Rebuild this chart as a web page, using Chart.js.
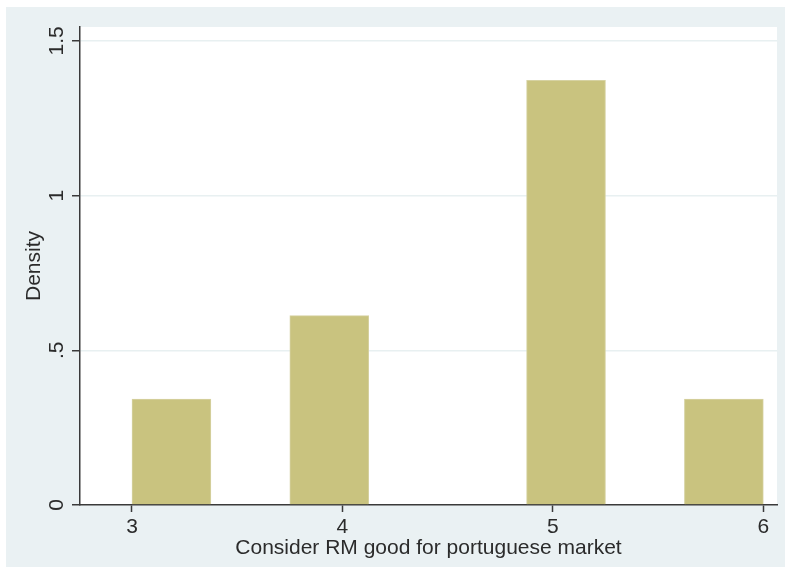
<!DOCTYPE html>
<html>
<head>
<meta charset="utf-8">
<script src="https://cdn.jsdelivr.net/npm/chart.js@4/dist/chart.umd.min.js"></script>
<style>
  html, body { margin: 0; padding: 0; background: #ffffff; }
  #wrap { width: 785px; height: 567px; }
</style>
</head>
<body>
<div id="wrap"><canvas id="c" width="785" height="567"></canvas></div>
<script>
// Histogram of responses: bin left edges, common bin width, density per bin
const binLeftEdges = [3, 3.375, 3.75, 4.125, 4.5, 4.875, 5.25, 5.625];
const binWidth = 0.375;
const densities = [0.342, 0, 0.612, 0, 0, 1.373, 0, 0.342];

const xTickValues = [3, 4, 5, 6];
const yTickValues = [0, 0.5, 1, 1.5];
const yTickLabels = ['0', '.5', '1', '1.5'];

const xTitle = 'Consider RM good for portuguese market';
const yTitle = 'Density';

const points = binLeftEdges.map((e, i) => ({ x: e + binWidth / 2, y: densities[i] }));

const FONT = "'Liberation Sans', Arial, sans-serif";
const FONT_SIZE = 21;
const INK = '#2b2b2b';
const AXIS = '#3a3a3a';

// Outer graph region and white plot region
const backgroundPlugin = {
  id: 'regions',
  beforeDraw(chart) {
    const { ctx, chartArea } = chart;
    ctx.save();
    ctx.fillStyle = '#eaf1f3';
    ctx.fillRect(6, 7, chart.width - 6, chart.height - 7);
    ctx.fillStyle = '#ffffff';
    ctx.fillRect(chartArea.left, chartArea.top, chartArea.right - chartArea.left, chartArea.bottom - chartArea.top);
    ctx.restore();
  }
};

// Vertical-axis tick labels, written upright along the axis and centred on each tick
const yLabelPlugin = {
  id: 'yLabels',
  afterDraw(chart) {
    const { ctx } = chart;
    const y = chart.scales.y;
    ctx.save();
    ctx.fillStyle = INK;
    ctx.font = `${FONT_SIZE}px ${FONT}`;
    ctx.textAlign = 'center';
    ctx.textBaseline = 'alphabetic';
    y.ticks.forEach(t => {
      const py = y.getPixelForValue(t.value);
      ctx.save();
      ctx.translate(y.right - 17, py);
      ctx.rotate(-Math.PI / 2);
      ctx.fillText(yTickLabels[yTickValues.indexOf(t.value)], 0, 0);
      ctx.restore();
    });
    ctx.restore();
  }
};

new Chart(document.getElementById('c'), {
  type: 'bar',
  data: {
    datasets: [{
      data: points,
      backgroundColor: '#c9c37f',
      borderColor: '#d6d2a2',
      borderWidth: 1,
      borderSkipped: 'bottom',
      barPercentage: 1,
      categoryPercentage: 1
    }]
  },
  options: {
    responsive: false,
    animation: false,
    layout: { padding: { left: 6, top: 27, right: 8, bottom: 0 } },
    plugins: { legend: { display: false }, tooltip: { enabled: false } },
    scales: {
      x: {
        type: 'linear',
        offset: false,
        min: 2.753,
        max: 6.065,
        afterBuildTicks(scale) { scale.ticks = xTickValues.map(v => ({ value: v })); },
        afterFit(scale) { scale.height = 62; },
        border: { display: true, color: AXIS, width: 1.5 },
        grid: { offset: false, drawOnChartArea: false, drawTicks: true, tickLength: 7, tickColor: AXIS, tickWidth: 1.5 },
        ticks: {
          color: INK,
          font: { family: FONT, size: FONT_SIZE },
          padding: 3,
          maxRotation: 0,
          callback: v => String(v)
        },
        title: {
          display: true,
          text: xTitle,
          color: INK,
          font: { family: FONT, size: FONT_SIZE },
          padding: { top: 0, bottom: 6 }
        }
      },
      y: {
        type: 'linear',
        min: 0,
        max: 1.545,
        afterBuildTicks(scale) { scale.ticks = yTickValues.map(v => ({ value: v })); },
        afterFit(scale) { scale.width = 74; },
        border: { display: true, color: AXIS, width: 1.5 },
        grid: {
          drawOnChartArea: true,
          color: ctx => (ctx.tick && ctx.tick.value === 0) ? 'rgba(0,0,0,0)' : '#e8f0f1',
          lineWidth: 1.5,
          drawTicks: true,
          tickLength: 8,
          tickColor: AXIS,
          tickWidth: 1.5
        },
        ticks: { display: false },
        title: {
          display: true,
          text: yTitle,
          color: INK,
          font: { family: FONT, size: FONT_SIZE },
          padding: { top: 16, bottom: 0 }
        }
      }
    }
  },
  plugins: [backgroundPlugin, yLabelPlugin]
});
</script>
</body>
</html>
